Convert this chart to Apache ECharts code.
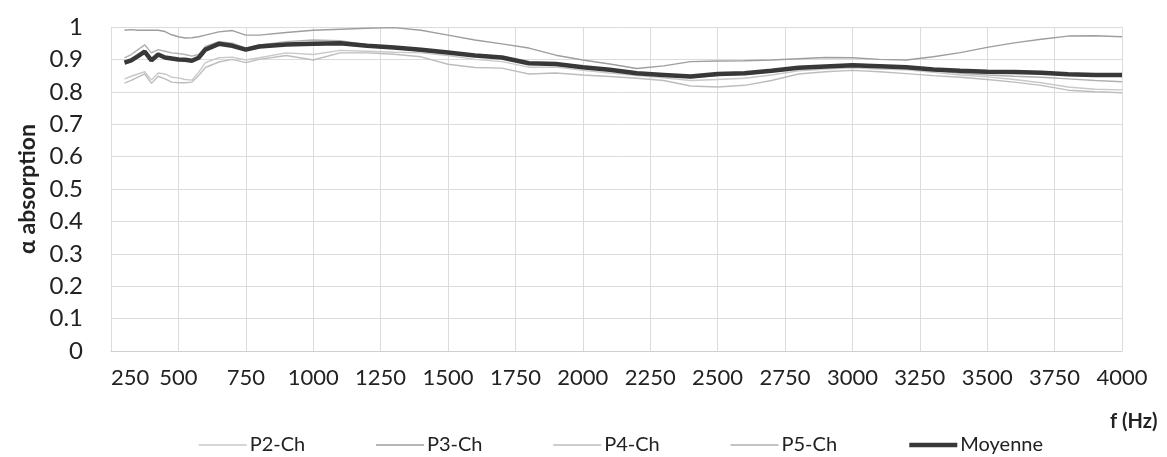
<!DOCTYPE html>
<html>
<head>
<meta charset="utf-8">
<script src="https://cdn.jsdelivr.net/npm/echarts@6/dist/echarts.min.js"></script>
<style>
html,body{margin:0;padding:0;background:#fff;}
#chart{width:1167px;height:457px;}
</style>
</head>
<body>
<div id="chart"></div>
<script>
const freqs = [300,325,350,375,400,425,450,475,500,525,550,575,600,650,700,750,800,900,1000,1100,1200,1300,1400,1500,1600,1700,1800,1900,2000,2100,2200,2300,2400,2500,2600,2700,2800,2900,3000,3100,3200,3300,3400,3500,3600,3700,3800,3900,4000];

const p2 = [0.840,0.848,0.855,0.862,0.836,0.858,0.855,0.845,0.843,0.838,0.836,0.860,0.890,0.905,0.907,0.898,0.905,0.920,0.915,0.928,0.925,0.922,0.920,0.912,0.900,0.893,0.876,0.876,0.866,0.858,0.850,0.843,0.835,0.838,0.842,0.852,0.865,0.870,0.874,0.870,0.868,0.860,0.852,0.846,0.838,0.828,0.815,0.808,0.806];
const p3 = [0.990,0.992,0.990,0.990,0.990,0.990,0.986,0.976,0.970,0.966,0.967,0.970,0.975,0.985,0.989,0.975,0.975,0.983,0.990,0.993,0.996,0.998,0.990,0.975,0.960,0.948,0.935,0.913,0.898,0.886,0.872,0.880,0.893,0.895,0.896,0.898,0.902,0.906,0.905,0.900,0.898,0.908,0.921,0.937,0.951,0.962,0.972,0.973,0.970];
const p4 = [0.827,0.835,0.845,0.855,0.826,0.848,0.840,0.830,0.828,0.828,0.830,0.850,0.875,0.892,0.900,0.890,0.900,0.912,0.898,0.920,0.920,0.916,0.908,0.885,0.875,0.873,0.855,0.858,0.852,0.847,0.842,0.835,0.818,0.815,0.820,0.835,0.855,0.862,0.866,0.862,0.856,0.850,0.845,0.838,0.830,0.820,0.805,0.800,0.797];
const p5 = [0.905,0.915,0.930,0.945,0.920,0.930,0.925,0.920,0.918,0.915,0.910,0.915,0.940,0.955,0.950,0.935,0.945,0.955,0.960,0.958,0.945,0.935,0.925,0.918,0.910,0.905,0.890,0.886,0.876,0.868,0.860,0.852,0.843,0.850,0.855,0.862,0.875,0.880,0.885,0.882,0.875,0.866,0.857,0.852,0.848,0.845,0.840,0.835,0.831];
const moyenne = [0.890,0.897,0.910,0.924,0.897,0.915,0.906,0.903,0.900,0.899,0.896,0.905,0.930,0.948,0.942,0.930,0.940,0.946,0.948,0.950,0.942,0.937,0.930,0.921,0.912,0.906,0.888,0.886,0.876,0.868,0.857,0.852,0.847,0.855,0.857,0.865,0.874,0.878,0.882,0.879,0.876,0.869,0.865,0.862,0.861,0.859,0.854,0.852,0.852];

const seriesNames = ['P2-Ch','P3-Ch','P4-Ch','P5-Ch','Moyenne'];
const seriesData = [p2,p3,p4,p5,moyenne];
const seriesColors = ['#c9c9c9','#9e9e9e','#bdbdbd','#b0b0b0','#383838'];
const seriesWidths = [1.4,1.4,1.4,1.4,4.5];

const yTicks = ['0','0.1','0.2','0.3','0.4','0.5','0.6','0.7','0.8','0.9','1'];

const FONT = 'Lato';

const chart = echarts.init(document.getElementById('chart'), null, {renderer:'canvas'});

const series = seriesNames.map((name, i) => ({
  name,
  type: 'line',
  data: freqs.map((f, j) => [f, seriesData[i][j]]),
  symbol: 'none',
  smooth: false,
  lineStyle: {color: seriesColors[i], width: seriesWidths[i]},
  itemStyle: {color: seriesColors[i]},
  z: i === 4 ? 5 : 2,
  animation: false
}));

chart.setOption({
  animation: false,
  grid: {left: 111, right: 45, top: 27, bottom: 106},
  xAxis: {
    type: 'value', min: 250, max: 4000, interval: 250,
    axisLine: {show: true, lineStyle: {color: '#d0d0d0', width: 1}},
    axisTick: {show: false},
    splitLine: {show: true, lineStyle: {color: '#dcdcdc', width: 1}},
    axisLabel: {color: '#222', fontFamily: FONT, fontSize: 22, margin: 16, alignMinLabel: 'left',
      formatter: (v) => String(v)}
  },
  yAxis: {
    type: 'value', min: 0, max: 1, interval: 0.1,
    name: 'α absorption', nameLocation: 'middle', nameGap: 72, nameRotate: 90,
    nameTextStyle: {fontFamily: FONT, fontSize: 23, fontWeight: 'bold', color: '#222'},
    axisLine: {show: false},
    axisTick: {show: false},
    splitLine: {show: true, lineStyle: {color: '#dcdcdc', width: 1}},
    axisLabel: {color: '#222', fontFamily: FONT, fontSize: 24, margin: 28,
      formatter: (v) => yTicks[Math.round(v * 10)]}
  },
  legend: {
    data: seriesNames,
    left: 193, top: 430,
    itemWidth: 48, itemHeight: 12, itemGap: 70,
    itemStyle: {opacity: 0},
    lineStyle: {width: 'inherit'},
    textStyle: {fontFamily: FONT, fontSize: 20, color: '#222', padding: [0,0,0,-2]}
  },
  graphic: [{
    type: 'text', left: 1110, top: 412,
    style: {text: 'f (Hz)', font: 'bold 20px ' + FONT, fill: '#222'}
  }],
  series
});
</script>
</body>
</html>
